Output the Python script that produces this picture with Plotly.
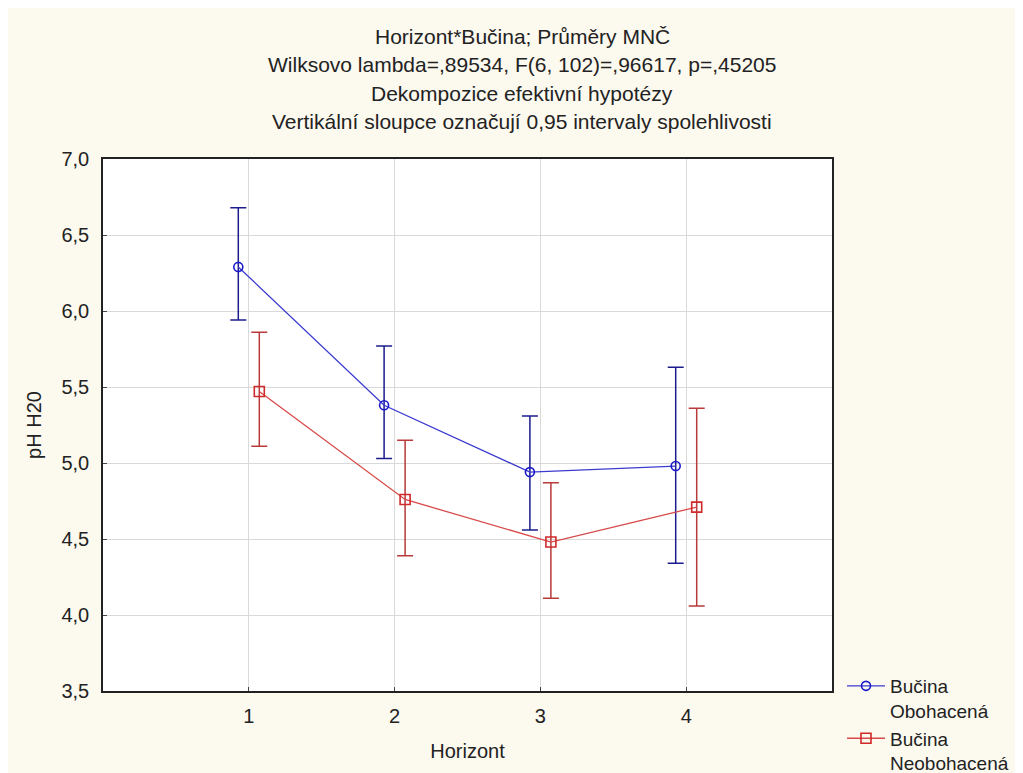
import plotly.graph_objects as go

horizont = [1, 2, 3, 4]
tick_labels = ["1", "2", "3", "4"]

obo_mean = [6.29, 5.38, 4.94, 4.98]
obo_upper = [6.68, 5.77, 5.31, 5.63]
obo_lower = [5.94, 5.03, 4.56, 4.34]

neo_mean = [5.47, 4.76, 4.48, 4.71]
neo_upper = [5.86, 5.15, 4.87, 5.36]
neo_lower = [5.11, 4.39, 4.11, 4.06]

offset = 0.072

series = [
    dict(name="Bučina<br>Obohacená", mean=obo_mean, up=obo_upper, lo=obo_lower,
         shift=-offset, line="#3b3bd0", bar="#1c1c8c", marker="circle-open", msize=9, mcol="#1a1acc"),
    dict(name="Bučina<br>Neobohacená", mean=neo_mean, up=neo_upper, lo=neo_lower,
         shift=offset, line="#d84a4a", bar="#b83a3a", marker="square-open", msize=10, mcol="#d02a2a"),
]

fig = go.Figure()
for s in series:
    xs = [h + s["shift"] for h in horizont]
    fig.add_trace(go.Scatter(
        x=xs, y=s["mean"], name=s["name"], mode="lines+markers",
        line=dict(color=s["line"], width=1.3),
        marker=dict(symbol=s["marker"], size=s["msize"], color=s["mcol"], line=dict(width=1.6)),
        error_y=dict(type="data", symmetric=False,
                     array=[u - m for u, m in zip(s["up"], s["mean"])],
                     arrayminus=[m - l for m, l in zip(s["mean"], s["lo"])],
                     color=s["bar"], thickness=1.5, width=8),
    ))

W, H = 1015, 765
L, R, T, B = 95, 191, 151, 82
pw, ph = W - L - R, H - T - B

title_lines = [
    "Horizont*Bučina; Průměry MNČ",
    "Wilksovo lambda=,89534, F(6, 102)=,96617, p=,45205",
    "Dekompozice efektivní hypotézy",
    "Vertikální sloupce označují 0,95 intervaly spolehlivosti",
]
for i, t in enumerate(title_lines):
    fig.add_annotation(text=t, xref="paper", yref="paper", x=(514 - L) / pw,
                       y=1 + (T - (29 + i * 28)) / ph, xanchor="center", yanchor="middle",
                       showarrow=False, font=dict(size=21, color="#222222"))

fig.update_layout(
    width=W, height=H,
    margin=dict(l=L, r=R, t=T, b=B, autoexpand=False),
    paper_bgcolor="#fcf9ef",
    plot_bgcolor="#ffffff",
    font=dict(family="Liberation Sans, Arial, sans-serif", size=20, color="#222222"),
    showlegend=True,
    legend=dict(x=(834 - L) / pw, y=(H - B - 659) / ph, xanchor="left", yanchor="top",
                bgcolor="rgba(0,0,0,0)",
                font=dict(size=19), itemwidth=38, valign="top", tracegroupgap=0),
    xaxis=dict(range=[0, 5], tickvals=horizont, ticktext=tick_labels,
               showgrid=True, gridcolor="#d9d9d9", gridwidth=1,
               showline=True, linecolor="#222222", linewidth=1.5, mirror=True,
               ticks="inside", ticklen=4, tickcolor="#444444", zeroline=False,
               tickfont=dict(size=20), ticklabelstandoff=6,
               title=dict(text="Horizont", font=dict(size=20), standoff=18)),
    yaxis=dict(range=[3.5, 7.0], dtick=0.5, tickformat=".1f",
               showgrid=True, gridcolor="#d9d9d9", gridwidth=1,
               showline=True, linecolor="#222222", linewidth=1.5, mirror=True,
               ticks="inside", ticklen=4, tickcolor="#444444", zeroline=False,
               tickfont=dict(size=20), ticklabelstandoff=8,
               title=dict(text="pH H20", font=dict(size=20), standoff=14)),
    separators=", ",
)

fig.write_html("out.html")
